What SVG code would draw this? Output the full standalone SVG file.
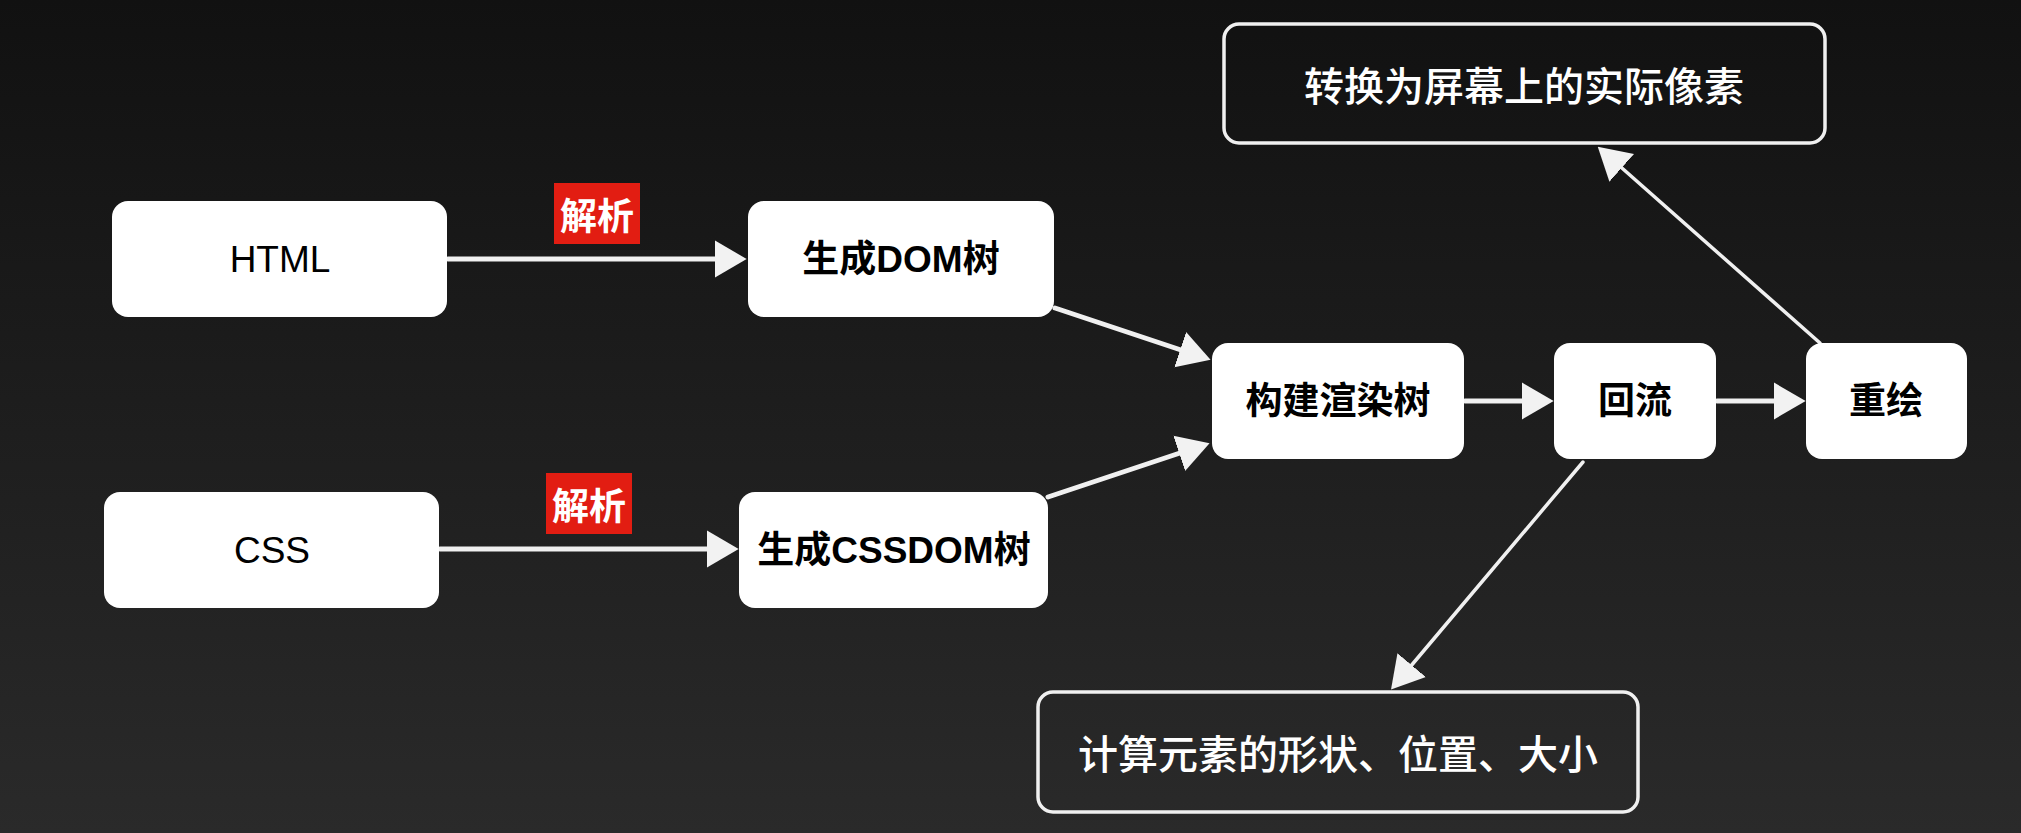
<svg xmlns="http://www.w3.org/2000/svg" width="2021" height="833" viewBox="0 0 2021 833">
<defs>
<linearGradient id="bg" x1="0" y1="0" x2="0" y2="1">
<stop offset="0" stop-color="#111111"/>
<stop offset="1" stop-color="#2a2a2a"/>
</linearGradient>
<marker id="ah" markerUnits="userSpaceOnUse" markerWidth="32" markerHeight="38" viewBox="0 0 31 36" refX="10" refY="18" orient="auto">
<path d="M0,0 L31,18 L0,36 Z" fill="#f2f2f2"/>
</marker>
<style>
.box{fill:#ffffff;}
.obox{fill:none;stroke:#f0f0f0;stroke-width:3.5;}
.t{font-family:"Liberation Sans","Noto Sans CJK SC",sans-serif;font-size:37px;fill:#000;text-anchor:middle;dominant-baseline:central;}
.tb{font-weight:bold;}
.tw{font-family:"Noto Sans CJK SC",sans-serif;font-size:40px;font-weight:500;fill:#fff;text-anchor:middle;dominant-baseline:central;}
.lab{fill:#e21d12;}
.lt{font-family:"Noto Sans CJK SC",sans-serif;font-size:37px;font-weight:bold;fill:#fff;text-anchor:middle;dominant-baseline:central;}
.c{stroke:#f0f0f0;stroke-width:5;fill:none;marker-end:url(#ah);stroke-linecap:round;}
.cd{stroke-width:3.5;}
</style>
</defs>
<rect x="0" y="0" width="2021" height="833" fill="url(#bg)"/>
<g id="connectors">
<line class="c" x1="448" y1="259" x2="725" y2="259"/>
<line class="c" x1="440" y1="549" x2="717" y2="549"/>
<line class="c" x1="1055" y1="308" x2="1190" y2="353"/>
<line class="c" x1="1048" y1="497" x2="1189" y2="450"/>
<line class="c" x1="1465" y1="401" x2="1532" y2="401"/>
<line class="c" x1="1717" y1="401" x2="1784" y2="401"/>
<line class="c cd" x1="1820" y1="343" x2="1614" y2="161"/>
<line class="c cd" x1="1583" y1="462" x2="1405" y2="673"/>
</g>
<g id="label-parse-1">
<rect class="lab" x="554" y="183" width="86" height="61"/>
<text class="lt" x="597" y="214">解析</text>
</g>
<g id="label-parse-2">
<rect class="lab" x="546" y="473" width="86" height="61"/>
<text class="lt" x="589" y="504">解析</text>
</g>
<g id="node-html">
<rect class="box" x="112" y="201" width="335" height="116" rx="16"/>
<text class="t" x="280" y="259">HTML</text>
</g>
<g id="node-css">
<rect class="box" x="104" y="492" width="335" height="116" rx="16"/>
<text class="t" x="272" y="550">CSS</text>
</g>
<g id="node-dom">
<rect class="box" x="748" y="201" width="306" height="116" rx="16"/>
<text class="t tb" x="901" y="259">生成DOM树</text>
</g>
<g id="node-cssdom">
<rect class="box" x="739" y="492" width="309" height="116" rx="16"/>
<text class="t tb" x="894" y="550">生成CSSDOM树</text>
</g>
<g id="node-render">
<rect class="box" x="1212" y="343" width="252" height="116" rx="16"/>
<text class="t tb" x="1338" y="401">构建渲染树</text>
</g>
<g id="node-reflow">
<rect class="box" x="1554" y="343" width="162" height="116" rx="16"/>
<text class="t tb" x="1635" y="401">回流</text>
</g>
<g id="node-repaint">
<rect class="box" x="1806" y="343" width="161" height="116" rx="16"/>
<text class="t tb" x="1886" y="401">重绘</text>
</g>
<g id="node-pixels">
<rect class="obox" x="1224" y="24" width="601" height="119" rx="15"/>
<text class="tw" x="1524" y="84">转换为屏幕上的实际像素</text>
</g>
<g id="node-layout">
<rect class="obox" x="1038" y="692" width="600" height="120" rx="15"/>
<text class="tw" x="1338" y="752">计算元素的形状、位置、大小</text>
</g>
</svg>
